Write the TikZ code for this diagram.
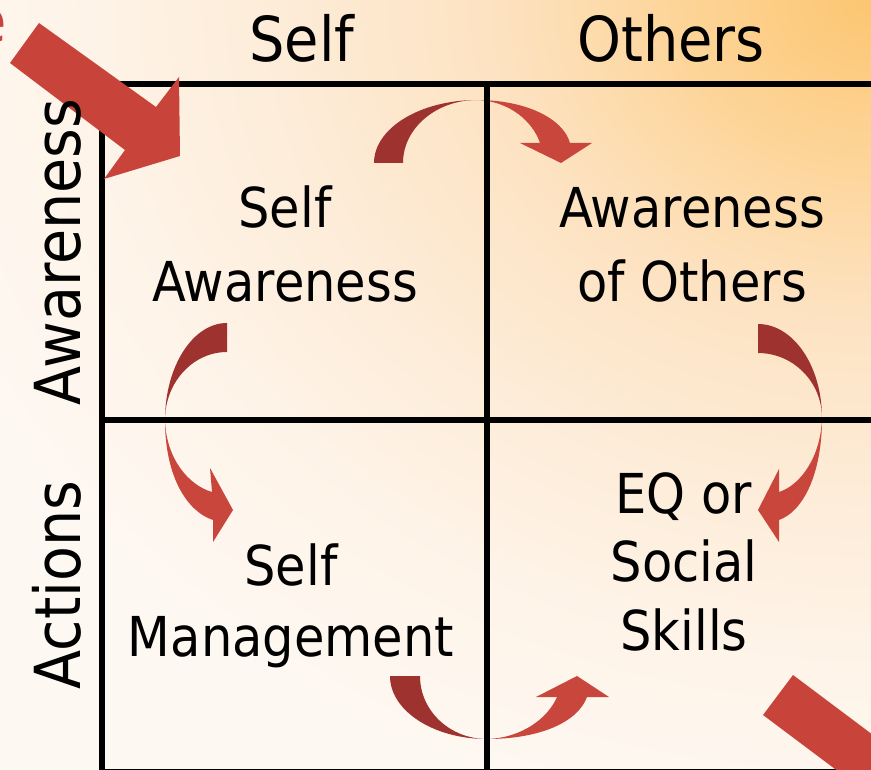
\documentclass[tikz,border=0pt]{standalone}
\usepackage{fontspec}
\setmainfont{DejaVu Sans}[FakeStretch=0.9]

\definecolor{bgA}{HTML}{FCC672}
\definecolor{bgB}{HTML}{FDD394}
\definecolor{bgC}{HTML}{FDE2C0}
\definecolor{bgD}{HTML}{FDEBD6}
\definecolor{bgE}{HTML}{FEF3E7}
\definecolor{bgF}{HTML}{FEF8F2}
\definecolor{arrowdark}{HTML}{9E322F}
\definecolor{arrowlight}{HTML}{C9463C}
\definecolor{arrowred}{HTML}{C8443A}

% warm glow spreading from the upper right corner
% (25bp of the shading fill half of the shaded rectangle)
\pgfdeclareradialshading{bgglow}{\pgfpoint{0bp}{0bp}}{%
  color(0bp)=(bgA); color(3.4bp)=(bgB); color(7.4bp)=(bgC);
  color(11.4bp)=(bgD); color(15.4bp)=(bgE); color(20bp)=(bgF);
  color(50bp)=(bgF)}

\newcommand\hdfont{\fontsize{62}{62}\selectfont}
\newcommand\sdfont{\fontsize{63.5}{63.5}\selectfont}

\begin{document}
\begin{tikzpicture}[x=1pt,y=-1pt,
  gridline/.style={line width=6pt, line join=miter},
  backpart/.style={fill=arrowdark},
  frontpart/.style={fill=arrowlight},
  bigarrow/.style={fill=arrowred},
  headtxt/.style={inner sep=0pt, font=\hdfont},
  sidetxt/.style={inner sep=0pt, font=\sdfont, rotate=90},
  celltxt/.style={inner sep=0pt, align=center},
  redtxt/.style={inner sep=0pt, text=arrowred, font=\fontsize{60}{60}\selectfont}]

\useasboundingbox (0,0) rectangle (871,770);
\clip (0,0) rectangle (871,770);
% rectangle centred on the upper right corner
\shade[shading=bgglow] (-379,-1040) rectangle (2121,1040);

% curved arrow: Self -> Others (over the top)
\fill[backpart] (374,163) .. controls (374,128.2) and (420.1,100) .. (477,100)
  .. controls (436.2,100) and (403,128.2) .. (403,163) -- cycle;
\fill[frontpart] (477,100) .. controls (525,100) and (563,118) .. (570,143)
  -- (592,143) -- (561,163) -- (520,143) -- (540,143)
  .. controls (533,122) and (510,101) .. (477,100) -- cycle;

% curved arrow: Self Awareness -> Self Management
\fill[backpart] (227,323) .. controls (192.8,323) and (165,366.5) .. (165,420)
  .. controls (165,382.5) and (192.8,352) .. (227,352) -- cycle;
\fill[frontpart] (165,420) .. controls (165,478) and (188,512) .. (213,520)
  -- (213,542) -- (233,510) -- (210,468) -- (212,492)
  .. controls (188,485) and (166,458) .. (165,420) -- cycle;

% curved arrow: Awareness of Others -> EQ or Social Skills
\fill[backpart] (758,324) .. controls (793.3,324) and (822,366) .. (822,418)
  .. controls (822,382) and (793.3,353) .. (758,353) -- cycle;
\fill[frontpart] (822,418) .. controls (822,476) and (802,512) .. (779,520)
  -- (779,542) -- (758,510) -- (779,469) -- (779,492)
  .. controls (801,485) and (821,456) .. (822,418) -- cycle;

% curved arrow: Self Management -> EQ or Social Skills (underneath)
\fill[backpart] (390,676) .. controls (390,710.8) and (433.5,739) .. (487,739)
  .. controls (450,739) and (420,711) .. (420,676) -- cycle;
\fill[frontpart] (487,739) .. controls (540,739) and (578,722) .. (587,697)
  -- (609,697) -- (577,676) -- (536,697) -- (557,697)
  .. controls (548,718) and (522,738) .. (487,739) -- cycle;

% the 2x2 grid
\draw[gridline] (102,84) rectangle (875,771.5);
\draw[gridline] (487,84) -- (487,771.5);
\draw[gridline] (102,420) -- (875,420);

% straight block arrows, in and out
\fill[bigarrow] (39,23) -- (156,107) -- (179,77) -- (180,156) -- (104,179)
  -- (125,150) -- (10,63) -- cycle;
\fill[bigarrow] (793,675) -- (913,765) -- (883,805) -- (763,715) -- cycle;

% column and row headings
\node[headtxt, anchor=base] (hself) at (302,62) {Self};
\node[headtxt, anchor=base] (hothers) at (671,62) {Others};
\node[sidetxt, anchor=base] (raware) at (80,252) {Awareness};
\node[sidetxt, anchor=base] (ractions) at (80,585) {Actions};

% cell contents
\node[celltxt, font=\fontsize{55}{73.4}\selectfont] (selfaw) at (285,244.1) {Self\\Awareness};
\node[celltxt, font=\fontsize{55}{73.4}\selectfont] (othaw) at (692,245) {Awareness\\of Others};
\node[celltxt, font=\fontsize{55}{71}\selectfont] (selfman) at (291,606) {Self\\Management};
\node[celltxt, font=\fontsize{55}{68.5}\selectfont] (eqsoc) at (684,561.5) {EQ or\\Social\\Skills};

% clipped letter at the upper left edge
\node[redtxt, anchor=base east] (edge) at (7,43) {e};
\end{tikzpicture}
\end{document}
